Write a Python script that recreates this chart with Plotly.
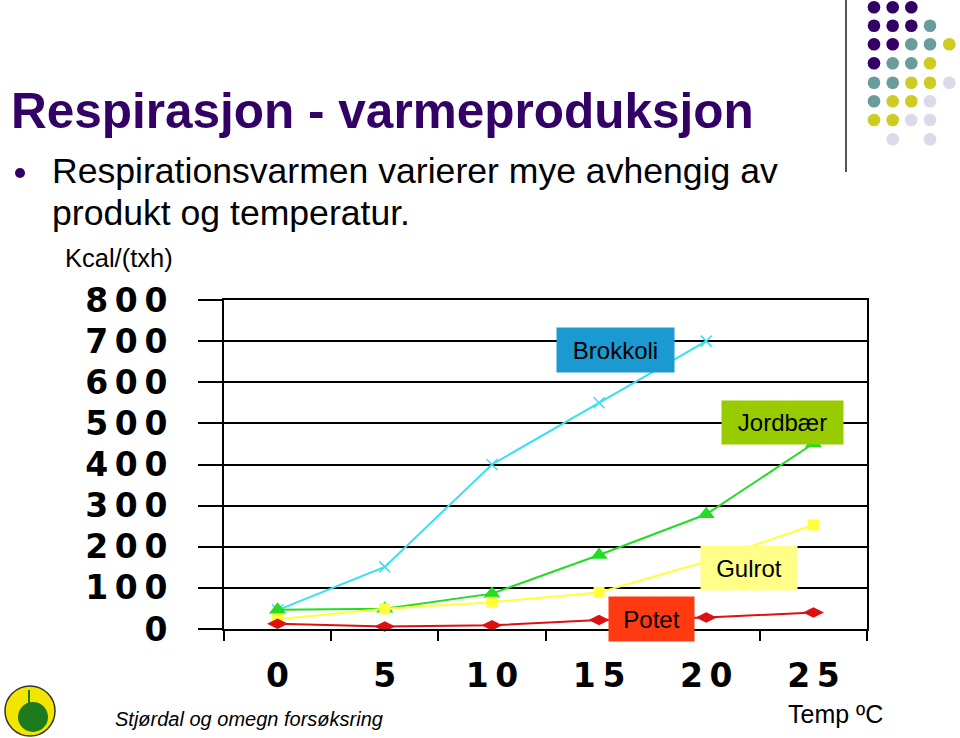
import plotly.graph_objects as go

# ---------------- data ----------------
temps = [0, 5, 10, 15, 20, 25]
brokkoli = [46, 151, 400, 550, 700, None]
jordbaer = [47, 49, 86, 180, 279, 451]
gulrot = [24, 49, 65, 89, 164, 253]
potet = [13, 6, 9, 22, 28, 40]
y_ticks = [0, 100, 200, 300, 400, 500, 600, 700, 800]

SP = "\u2009"


def spaced(v):
    return SP.join(str(v))


x_labels = [spaced(t) for t in temps]
y_ticktext = [spaced(v) for v in y_ticks]

# ---------------- geometry helpers ----------------
W, H = 960, 738
L, R, T, B = 224, 867, 300, 629


def fx(px):
    return (px - L) / (R - L)


def fy(py):
    return (B - py) / (B - T)


fig = go.Figure()

series = [
    ("Brokkoli", brokkoli, "#38E0F0", dict(symbol="x-thin", size=11, line=dict(color="#38E0F0", width=1.5))),
    ("Jordbær", jordbaer, "#22DD22", dict(symbol="triangle-up", size=15)),
    ("Gulrot", gulrot, "#FFFF3A", dict(symbol="square", size=11)),
    ("Potet", potet, "#DD1111", dict(symbol="diamond-wide", size=15)),
]
for name, vals, col, mk in series:
    mk = dict(mk)
    mk.setdefault("color", col)
    fig.add_trace(go.Scatter(
        x=x_labels, y=vals, name=name, mode="lines+markers",
        line=dict(color=col, width=2), marker=mk, cliponaxis=False,
        showlegend=False,
    ))

tick_font = dict(family="DejaVu Sans", size=33, color="black", weight="bold")

fig.update_layout(
    width=W, height=H,
    margin=dict(l=L, r=W - R, t=T, b=H - B, pad=0),
    paper_bgcolor="white", plot_bgcolor="white",
    showlegend=False,
    xaxis=dict(
        type="category", tickson="boundaries",
        ticks="outside", ticklen=10, tickwidth=2, tickcolor="black",
        showline=True, linecolor="black", linewidth=2, mirror=True,
        showgrid=False, tickfont=tick_font, ticklabelstandoff=16,
        range=[-0.5, 5.5],
    ),
    yaxis=dict(
        range=[0, 800], tickvals=y_ticks, ticktext=y_ticktext,
        ticks="outside", ticklen=24, tickwidth=2, tickcolor="black",
        showline=True, linecolor="black", linewidth=2, mirror=True,
        showgrid=True, gridcolor="black", gridwidth=2, zeroline=False,
        tickfont=tick_font, ticklabelstandoff=24,
    ),
)

ann = []


def text(px, py, s, size, color="black", family="Liberation Sans", bold=False, italic=False, anchor="left"):
    f = dict(family=family, size=size, color=color)
    if bold:
        f["weight"] = "bold"
    if italic:
        f["style"] = "italic"
    ann.append(dict(x=fx(px), y=fy(py), xref="paper", yref="paper", text=s,
                    showarrow=False, xanchor=anchor, yanchor="middle", font=f))


text(9, 110, "Respirasjon - varmeproduksjon", 49.5, color="#330066", bold=True)
text(50, 171, "Respirationsvarmen varierer mye avhengig av", 35.6)
text(50, 213, "produkt og temperatur.", 35.6)
text(63, 258, "Kcal/(txh)", 25.5)
text(786, 714, "Temp ºC", 25)
text(113, 719, "Stjørdal og omegn forsøksring", 20, italic=True)

# label boxes for the series
boxes = [
    ("Brokkoli", 557, 674, 328, 372, "#1A9AD0"),
    ("Jordbær", 722, 843, 401, 444, "#99CC00"),
    ("Gulrot", 701, 797, 546, 590, "#FFFF88"),
    ("Potet", 609, 694, 597, 641, "#FF3A10"),
]
for s, x0, x1, y0, y1, bg in boxes:
    ann.append(dict(x=fx((x0 + x1) / 2), y=fy((y0 + y1) / 2), xref="paper", yref="paper",
                    text=s, showarrow=False, xanchor="center", yanchor="middle",
                    width=x1 - x0, height=y1 - y0, bgcolor=bg, borderpad=0,
                    font=dict(family="Liberation Sans", size=24, color="black")))

fig.update_layout(annotations=ann)

shapes = []
# decorative vertical line
shapes.append(dict(type="line", xref="paper", yref="paper", x0=fx(846), x1=fx(846),
                   y0=fy(0), y1=fy(172), line=dict(color="#555555", width=2)))
# dot pattern
pal = {"P": "#330066", "T": "#6A9C9C", "Y": "#CCCC22", "L": "#DADAEA"}
pattern = ["PPP..", "PPPT.", "PPTTY", "PTTY.", "TTYYL", "TYYL.", "YYLL.", ".L.L."]
cols = [874, 892.7, 911.3, 930, 949.3]
rows = [7.3, 25.7, 44.3, 63.3, 82.7, 101.3, 120, 139.3]
r = 6.3
for ri, row in enumerate(pattern):
    for ci, ch in enumerate(row):
        if ch == ".":
            continue
        cx, cy = cols[ci], rows[ri]
        shapes.append(dict(type="circle", xref="paper", yref="paper",
                           x0=fx(cx - r), x1=fx(cx + r), y0=fy(cy + r), y1=fy(cy - r),
                           fillcolor=pal[ch], line=dict(width=0)))
# bullet
shapes.append(dict(type="circle", xref="paper", yref="paper",
                   x0=fx(15), x1=fx(25), y0=fy(178), y1=fy(168),
                   fillcolor="#330066", line=dict(width=0)))
# logo
shapes.append(dict(type="circle", xref="paper", yref="paper",
                   x0=fx(5), x1=fx(55), y0=fy(736), y1=fy(686),
                   fillcolor="#F2E600", line=dict(color="#333333", width=1.5)))
shapes.append(dict(type="circle", xref="paper", yref="paper",
                   x0=fx(18), x1=fx(48), y0=fy(732), y1=fy(702),
                   fillcolor="#1E7A1E", line=dict(width=0)))
shapes.append(dict(type="line", xref="paper", yref="paper", x0=fx(29), x1=fx(29),
                   y0=fy(712), y1=fy(690), line=dict(color="#1E7A1E", width=2)))
fig.update_layout(shapes=shapes)

fig.write_html("out.html")
